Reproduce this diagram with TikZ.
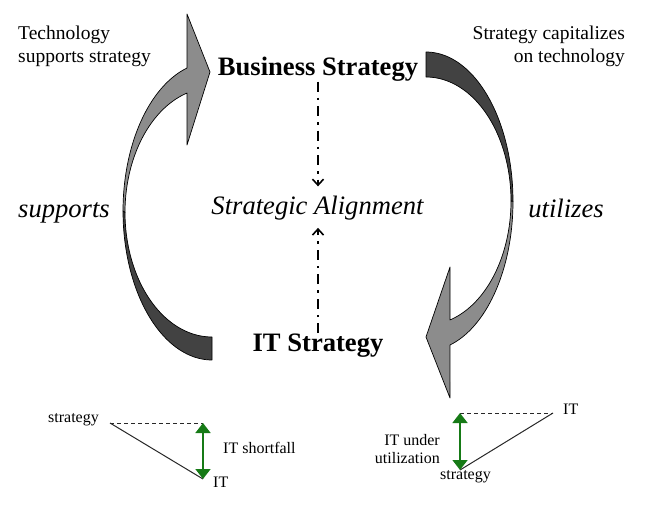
\documentclass[tikz,border=0pt]{standalone}
\usepackage{fontspec}
\setmainfont{Liberation Serif}
\usetikzlibrary{arrows.meta}
\definecolor{lightg}{RGB}{140,140,140}
\definecolor{darkg}{RGB}{66,66,66}
\definecolor{arrgreen}{RGB}{22,122,22}
\definecolor{linegray}{RGB}{40,40,40}
\begin{document}
\begin{tikzpicture}[x=1pt,y=-1pt,
  big/.style={font=\fontsize{26.6}{32}\selectfont, inner sep=0pt},
  lab/.style={font=\fontsize{19.5}{23}\selectfont, inner sep=0pt},
  small/.style={font=\fontsize{16}{18}\selectfont, inner sep=0pt},
  lightpiece/.style={draw=black, line width=0.7pt, fill=lightg, line join=round},
  darkpiece/.style={draw=black, line width=0.7pt, fill=darkg, line join=round},
  dda/.style={line width=2pt, dash pattern=on 10pt off 6pt on 2.5pt off 6pt, -{Straight Barb[length=6pt,width=11pt,line width=1.6pt]}},
  tri/.style={line width=1pt, draw=linegray},
  tridash/.style={line width=1pt, draw=linegray, dash pattern=on 4pt off 3pt},
  garrow/.style={line width=1.6pt, draw=arrgreen, {Triangle[length=10pt,width=15pt,fill=arrgreen]}-{Triangle[length=10pt,width=15pt,fill=arrgreen]}}
]
\useasboundingbox (0,0) rectangle (645,510);

% ---------- left curved arrow (supports) ----------
\path[darkpiece]
  plot[domain=180:270, samples=50] ({212+89*cos(\x)},{211-149*sin(\x)})
  -- plot[domain=270:180, samples=50] ({212+87*cos(\x)},{212.4-124.6*sin(\x)})
  -- cycle;
\path[lightpiece]
  (187,14) -- (210,72) -- (187,145) -- (187,93.1)
  -- plot[domain=106.7:180, samples=50] ({212+87*cos(\x)},{212.4-124.6*sin(\x)})
  -- plot[domain=180:106.3, samples=50] ({212+89*cos(\x)},{211-149*sin(\x)})
  -- cycle;

% ---------- right curved arrow (utilizes) ----------
\path[darkpiece]
  plot[domain=90:0, samples=50] ({426+87*cos(\x)},{201.4-149.4*sin(\x)})
  -- plot[domain=0:90, samples=50] ({426+85*cos(\x)},{201-124*sin(\x)})
  -- cycle;
\path[lightpiece]
  plot[domain=0:-74, samples=50] ({426+87*cos(\x)},{201.4-149.4*sin(\x)})
  -- (450,398) -- (426,337) -- (450,267) -- (450,320)
  -- plot[domain=-73.6:0, samples=50] ({426+85*cos(\x)},{201-124*sin(\x)})
  -- cycle;

% ---------- texts ----------
\node[lab, align=left, anchor=west] (tss) at (18,46.5) {Technology\\supports strategy};
\node[lab, align=right, anchor=east] (scot) at (625,46) {Strategy capitalizes\\on technology};

\node[big, anchor=base] (bs) at (318,75.5) {\bfseries Business Strategy};
\node[big, anchor=base] (sa) at (317.5,215) {\itshape Strategic Alignment};
\node[big, anchor=base] (its) at (318,352) {\bfseries IT Strategy};
\node[big, anchor=base] (sup) at (64,218) {\itshape supports};
\node[big, anchor=base] (uti) at (566,218) {\itshape utilizes};

\coordinate (satop) at ([yshift=10pt]sa.north);
\coordinate (sabot) at ([yshift=-7pt]sa.south);
\draw[dda] (bs.south) -- (bs.south |- satop);
\draw[dda] ([yshift=1pt]its.north) -- (its.north |- sabot);

% ---------- left small triangle ----------
\node[small, anchor=base] (ls) at (73.5,422) {strategy};
\coordinate (la) at (110,423);
\coordinate (lb) at (203,423);
\coordinate (lc) at (203,479);
\draw[tridash] (la) -- (lb);
\draw[tri] (la) -- (lc);
\draw[garrow] (lc) -- (lb);
\node[small, anchor=base west] (lsf) at (223,453) {IT shortfall};
\node[small, anchor=base west] (lit) at (213,487) {IT};

% ---------- right small triangle ----------
\coordinate (ra) at (460,413);
\coordinate (rb) at (553,413);
\coordinate (rc) at (460,470);
\draw[tridash] (ra) -- (rb);
\draw[tri] (rb) -- (rc);
\draw[garrow] (rc) -- (ra);
\node[small, anchor=base west] (rit) at (563,414) {IT};
\node[small, align=right, anchor=east] (riu) at (440,448.6) {IT under\\utilization};
\node[small, anchor=base] (rs) at (465.5,479) {strategy};
\end{tikzpicture}
\end{document}
